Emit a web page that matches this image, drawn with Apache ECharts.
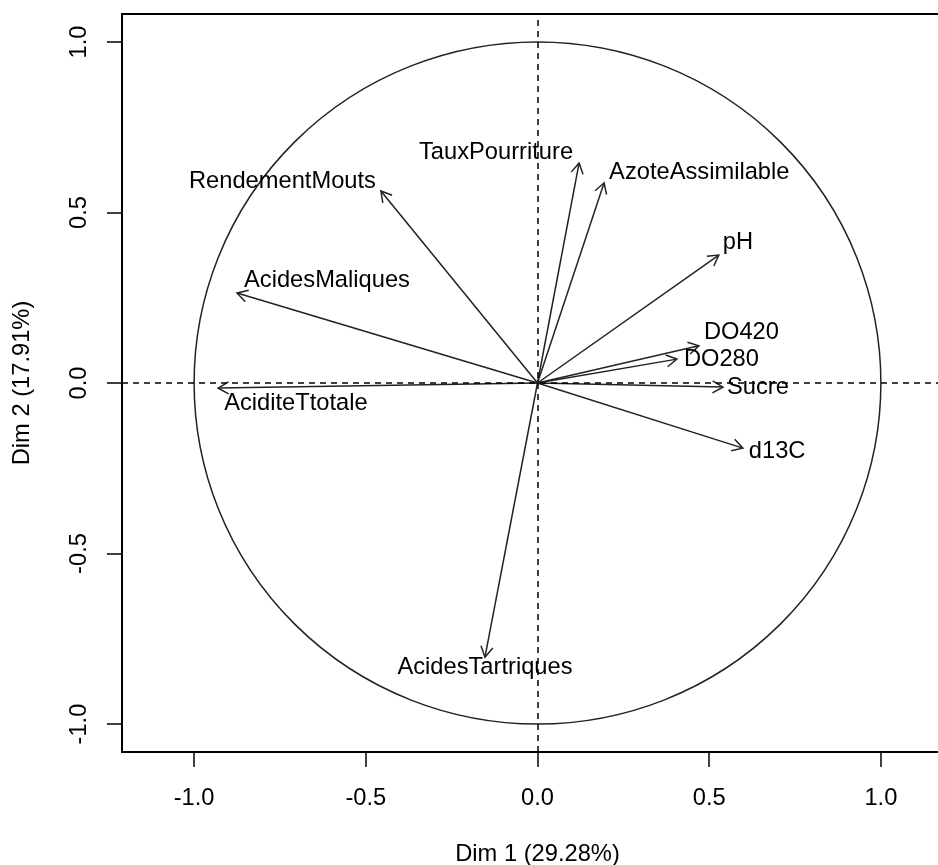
<!DOCTYPE html>
<html>
<head>
<meta charset="utf-8">
<script src="https://cdn.jsdelivr.net/npm/echarts@6/dist/echarts.min.js"></script>
<style>
html,body{margin:0;padding:0;background:#fff;}
#chart{width:938px;height:865px;}
</style>
</head>
<body>
<div id="chart"></div>
<script>
// ---- data ----
const variables = ["TauxPourriture","AzoteAssimilable","RendementMouts","pH","AcidesMaliques","DO420","DO280","Sucre","AciditeTtotale","d13C","AcidesTartriques"];
const dim1 = [0.121, 0.194, -0.456, 0.528, -0.875, 0.470, 0.406, 0.540, -0.930, 0.598, -0.153];
const dim2 = [0.645, 0.587, 0.563, 0.375, 0.264, 0.109, 0.070, -0.012, -0.015, -0.191, -0.804];
const tickValues = [-1.0, -0.5, 0.0, 0.5, 1.0];
const xTitle = "Dim 1 (29.28%)";
const yTitle = "Dim 2 (17.91%)";

// ---- label layout (pixel offsets from arrow tip) ----
const labelLayout = {
  "TauxPourriture":   {dx:-6, dy:-11, align:"right"},
  "AzoteAssimilable": {dx:5,  dy:-10, align:"left"},
  "RendementMouts":   {dx:-5, dy:-10, align:"right"},
  "pH":               {dx:4,  dy:-13, align:"left"},
  "AcidesMaliques":   {dx:7,  dy:-13, align:"left"},
  "DO420":            {dx:5,  dy:-13, align:"left"},
  "DO280":            {dx:7,  dy:0,   align:"left"},
  "Sucre":            {dx:4,  dy:0,   align:"left"},
  "AciditeTtotale":   {dx:6,  dy:15,  align:"left"},
  "d13C":             {dx:6,  dy:3,   align:"left"},
  "AcidesTartriques": {dx:0,  dy:10,  align:"center"}
};

const FONT = "Liberation Sans, Arial, sans-serif";
const FS = 23.7;
const arrowData = variables.map((n, i) => [dim1[i], dim2[i], n]);

const chart = echarts.init(document.getElementById('chart'), null, {renderer:'canvas'});
const axisCommon = {
  type: 'value',
  splitLine: {show:false},
  axisLine: {show:true, onZero:false, lineStyle:{color:'#000', width:2}},
  axisTick: {show:true, customValues: tickValues, length:15, lineStyle:{color:'#000', width:1.5}},
  axisLabel: {show:true, customValues: tickValues, color:'#000', fontFamily:FONT, fontSize:FS,
              formatter: v => v.toFixed(1)},
  nameLocation: 'middle',
  nameTextStyle: {color:'#000', fontFamily:FONT, fontSize:FS}
};

chart.setOption({
  animation: false,
  backgroundColor: '#fff',
  grid: {left:122, top:14, bottom:113, right:-15, show:true, borderColor:'#000', borderWidth:2,
         containLabel:false, outerBoundsMode:'none'},
  xAxis: Object.assign({}, axisCommon, {
    min:-1.21, max:1.21, position:'bottom',
    name: xTitle, nameGap: 90,
    axisLabel: Object.assign({}, axisCommon.axisLabel, {margin:34})
  }),
  yAxis: Object.assign({}, axisCommon, {
    min:-1.082, max:1.082, position:'left',
    name: yTitle, nameGap: 88,
    axisLabel: Object.assign({}, axisCommon.axisLabel, {margin:31, rotate:90})
  }),
  series: [
    {
      type:'custom', coordinateSystem:'cartesian2d', silent:true, z:1,
      data:[[0,0]],
      renderItem: function(params, api){
        const c = api.coord([0,0]);
        const px = api.coord([1,0]);
        const py = api.coord([0,1]);
        const rx = px[0]-c[0], ry = c[1]-py[1];
        const d = `M${c[0]-rx},${c[1]} A${rx},${ry} 0 1,0 ${c[0]+rx},${c[1]} A${rx},${ry} 0 1,0 ${c[0]-rx},${c[1]} Z`;
        return {type:'path', shape:{pathData:d, x:c[0]-rx, y:c[1]-ry, width:2*rx, height:2*ry, layout:'cover'},
                style:{fill:null, stroke:'#222', lineWidth:1.5}};
      },
      markLine: {
        silent:true, symbol:'none', label:{show:false},
        lineStyle:{type:[6,5], color:'#000', width:1.5},
        data:[{xAxis:0},{yAxis:0}]
      }
    },
    {
      type:'custom', coordinateSystem:'cartesian2d', silent:true, z:3,
      data: arrowData,
      renderItem: function(params, api){
        const o = api.coord([0,0]);
        const p = api.coord([api.value(0), api.value(1)]);
        const name = arrowData[params.dataIndex][2];
        const ang = Math.atan2(p[1]-o[1], p[0]-o[0]);
        const L = 12, a = Math.PI/6;
        const h1 = [p[0]-L*Math.cos(ang-a), p[1]-L*Math.sin(ang-a)];
        const h2 = [p[0]-L*Math.cos(ang+a), p[1]-L*Math.sin(ang+a)];
        const lay = labelLayout[name];
        return {type:'group', children:[
          {type:'line', shape:{x1:o[0], y1:o[1], x2:p[0], y2:p[1]}, style:{stroke:'#222', lineWidth:1.5}},
          {type:'polyline', shape:{points:[h1,p,h2]}, style:{stroke:'#222', lineWidth:1.5, fill:null}},
          {type:'text', style:{text:name, x:p[0]+lay.dx, y:p[1]+lay.dy, align:lay.align, verticalAlign:'middle',
                               fill:'#000', font: FS + 'px ' + FONT}}
        ]};
      }
    }
  ]
});
</script>
</body>
</html>
